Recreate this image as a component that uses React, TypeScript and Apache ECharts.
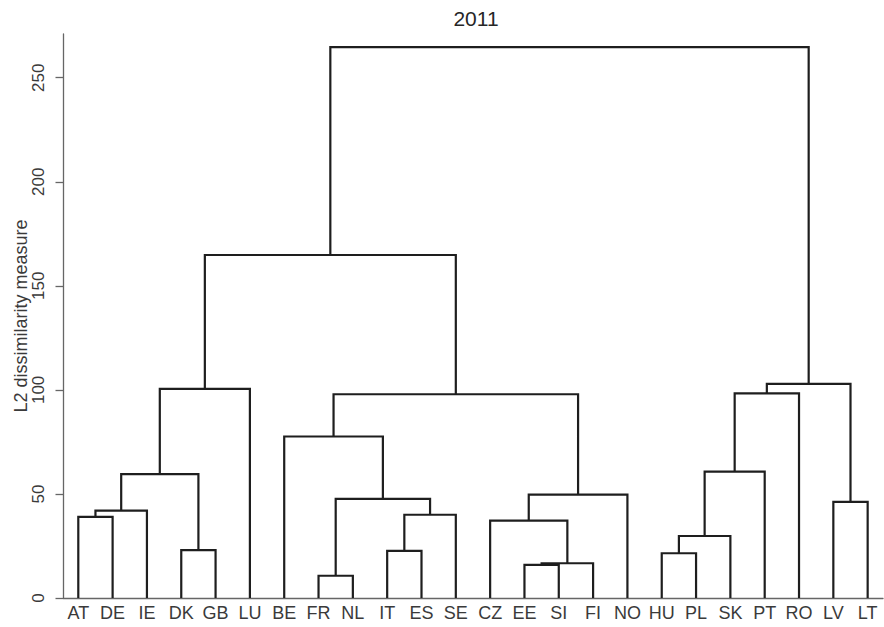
import React, { useEffect, useRef } from "react";
import * as echarts from "echarts";

// Leaf order along the x axis
const leaves = ["AT", "DE", "IE", "DK", "GB", "LU", "BE", "FR", "NL", "IT", "ES", "SE", "CZ", "EE", "SI", "FI", "NO", "HU", "PL", "SK", "PT", "RO", "LV", "LT"];

// Merges: left child, right child (leaf name or "m<k>", k = 1-based merge index), height
const mergeLeft = ["AT", "m1", "DK", "m2", "m4", "FR", "IT", "m7", "m6", "BE", "EE", "m11", "CZ", "m13", "m10", "m5", "HU", "m17", "m18", "m19", "LV", "m20", "m16"];
const mergeRight = ["DE", "IE", "GB", "m3", "LU", "NL", "ES", "SE", "m8", "m9", "SI", "FI", "m12", "NO", "m14", "m15", "PL", "SK", "PT", "RO", "LT", "m21", "m22"];
const mergeHeight = [39, 42, 23, 59.5, 100.5, 10.7, 22.6, 40, 47.6, 77.6, 15.9, 16.7, 37.2, 49.7, 97.9, 164.8, 21.5, 29.8, 60.7, 98.3, 46.2, 102.9, 264.7];

const yTicks = [0, 50, 100, 150, 200, 250];
const xTicks = leaves.map((_, i) => i + 1);

function buildSegments() {
  const pos: Record<string, [number, number]> = {};
  leaves.forEach((l, i) => (pos[l] = [i + 1, 0]));
  const segs: number[][] = [];
  mergeHeight.forEach((h, k) => {
    const a = pos[mergeLeft[k]];
    const b = pos[mergeRight[k]];
    segs.push([a[0], a[1], b[0], b[1], h]);
    pos["m" + (k + 1)] = [(a[0] + b[0]) / 2, h];
  });
  return segs;
}

const FONT = "'Liberation Sans', Arial, Helvetica, sans-serif";

export default function App() {
  const ref = useRef<HTMLDivElement>(null);
  useEffect(() => {
    if (!ref.current) return;
    const chart = echarts.init(ref.current, null, { renderer: "svg" });
    const segs = buildSegments();
    chart.setOption({
      animation: false,
      backgroundColor: "#ffffff",
      title: {
        text: "2011",
        left: 471,
        top: 3,
        textAlign: "center",
        textStyle: { fontFamily: FONT, fontSize: 21, fontWeight: "normal", color: "#262626" },
      },
      grid: { left: 63.5, right: 1, top: 34, bottom: 29, containLabel: false, outerBoundsMode: "none" },
      xAxis: {
        type: "value",
        min: 0.569,
        max: 24.447,
        splitLine: { show: false },
        axisTick: { show: false },
        axisLine: { show: true, lineStyle: { color: "#666", width: 1.3 } },
        axisLabel: {
          customValues: xTicks,
          formatter: (v: number) => leaves[Math.round(v) - 1] ?? "",
          fontFamily: FONT,
          fontSize: 18,
          color: "#3a3a3a",
          margin: 6,
        },
      },
      yAxis: {
        type: "value",
        min: 0,
        max: 271,
        name: "L2 dissimilarity measure",
        nameLocation: "middle",
        nameGap: 34,
        nameRotate: 90,
        nameMoveOverlap: false,
        nameTextStyle: { fontFamily: FONT, fontSize: 18, color: "#3a3a3a" },
        splitLine: { show: false },
        axisLine: { show: true, lineStyle: { color: "#666", width: 1.3 } },
        axisTick: { show: true, length: 8, customValues: yTicks, lineStyle: { color: "#666", width: 1.3 } },
        axisLabel: {
          customValues: yTicks,
          rotate: 90,
          fontFamily: FONT,
          fontSize: 17,
          color: "#3a3a3a",
          margin: 17,
        },
      },
      series: [
        {
          type: "custom",
          data: segs,
          encode: { x: [0, 2], y: [1, 3, 4] },
          clip: false,
          renderItem: (params: any, api: any) => {
            const lx = api.value(0), lh = api.value(1), rx = api.value(2), rh = api.value(3), h = api.value(4);
            const pts = [api.coord([lx, lh]), api.coord([lx, h]), api.coord([rx, h]), api.coord([rx, rh])];
            return {
              type: "polyline",
              shape: { points: pts },
              style: { stroke: "#1e1e1e", lineWidth: 2.2, fill: null },
            };
          },
        },
      ],
    });
    return () => chart.dispose();
  }, []);
  return <div ref={ref} style={{ position: "fixed", left: 0, top: 0, width: 884, height: 627 }} />;
}
